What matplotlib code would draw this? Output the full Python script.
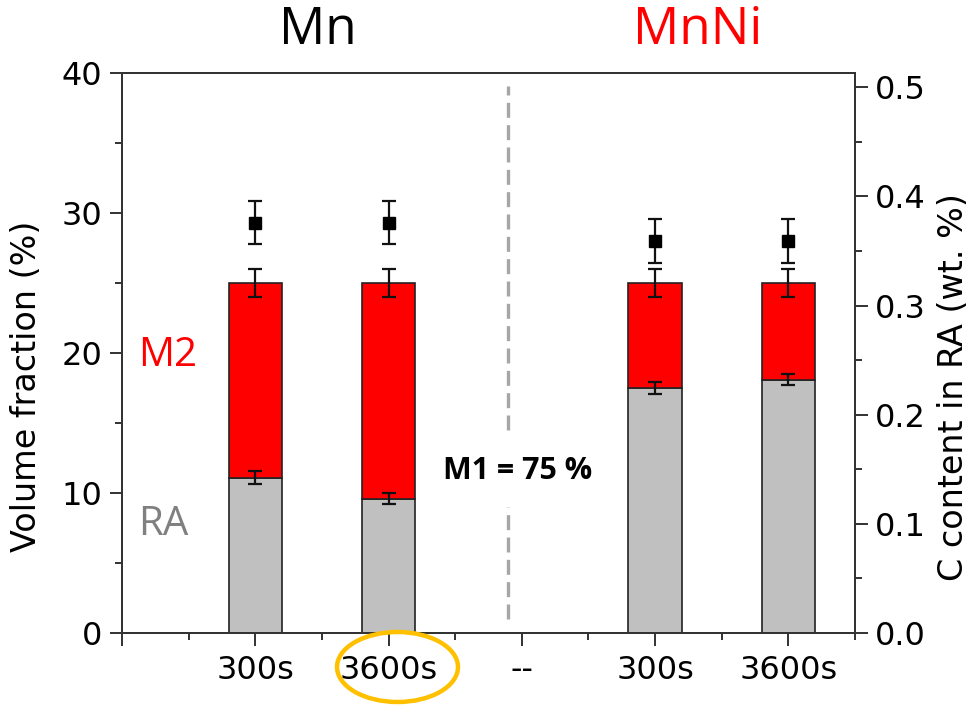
import numpy as np
import matplotlib
matplotlib.use("Agg")
import matplotlib.pyplot as plt
from matplotlib.patches import Ellipse

# categories along x (blank slot at the left edge, "--" is the separator slot)
categories = ["", "300s", "3600s", "--", "300s", "3600s"]
ra = [np.nan, 11.1, 9.6, np.nan, 17.5, 18.1]          # retained austenite (vol. %)
ra_err = [np.nan, 0.45, 0.4, np.nan, 0.4, 0.4]
total = [np.nan, 25.0, 25.0, np.nan, 25.0, 25.0]      # RA + M2 (vol. %)
total_err = [np.nan, 1.0, 1.0, np.nan, 1.0, 1.0]
c_content = [np.nan, 0.376, 0.376, np.nan, 0.359, 0.359]  # C in RA (wt. %)
c_err = [np.nan, 0.02, 0.02, np.nan, 0.02, 0.02]
group_titles = ["Mn", "MnNi"]
sep_segments = [(1.0, 9.0), (14.5, 39.1)]             # dashed separator, broken by the M1 note

W, H, DPI = 980, 705, 100
fig = plt.figure(figsize=(W / DPI, H / DPI), dpi=DPI)
ax = fig.add_axes([122 / W, 1 - 633 / H, (855 - 122) / W, (633 - 73) / H])
ax2 = ax.twinx()

x = np.arange(len(categories))
ra = np.array(ra); total = np.array(total)
m2 = total - ra

ax.bar(x, ra, width=0.4, color="#c0c0c0", edgecolor="#222222", lw=1.2, zorder=2)
ax.bar(x, m2, bottom=ra, width=0.4, color="#ff0000", edgecolor="#222222", lw=1.2, zorder=2)
ebkw = dict(fmt="none", ecolor="#111111", elinewidth=1.6, capsize=5, capthick=1.6, zorder=3)
ax.errorbar(x, ra, yerr=ra_err, **ebkw)
ax.errorbar(x, total, yerr=total_err, **ebkw)
ax2.errorbar(x, c_content, yerr=c_err, fmt="s", color="black", ms=9,
             ecolor="#111111", elinewidth=1.6, capsize=5, capthick=1.6, zorder=3)

for lo, hi in sep_segments:
    ax.plot([2.9, 2.9], [lo, hi], color="#a6a6a6", lw=2.4, dashes=(4.5, 2.2), zorder=1)
ax.text(2.97, 11.6, "M1 = 75 %", ha="center", va="center", fontsize=22,
        fontweight="bold", family="Open Sans", color="black")
ax.text(0.12, 19.8, "M2", color="#ff0000", fontsize=29, family="Open Sans", va="center", ha="left")
ax.text(0.12, 7.7, "RA", color="#808080", fontsize=29, family="Open Sans", va="center", ha="left")

ax.set_xlim(0, 5.5)
ax.set_ylim(0, 40)
ax2.set_ylim(0, 0.513)
ax.set_xticks(x)
ax.set_xticklabels(categories)
ax.set_xticks(np.arange(0.5, 5.6, 1.0), minor=True)
ax.set_yticks(np.arange(0, 41, 10))
ax.set_yticks(np.arange(5, 40, 10), minor=True)
ax2.set_yticks(np.arange(0, 0.51, 0.1))
ax2.set_yticks(np.arange(0.05, 0.5, 0.1), minor=True)
ax2.set_yticklabels(["0.0", "0.1", "0.2", "0.3", "0.4", "0.5"])

for a in (ax, ax2):
    a.tick_params(which="major", direction="out", length=9, width=1.3, labelsize=23, color="#222222")
    a.tick_params(which="minor", direction="out", length=5, width=1.3, color="#222222")
    for s in a.spines.values():
        s.set_linewidth(1.4)
        s.set_color("#333333")
ax.tick_params(axis="x", pad=7)
ax.tick_params(axis="y", pad=5)
ax2.tick_params(axis="y", pad=5)

ax.set_ylabel("Volume fraction (%)", fontsize=24, va="center")
ax2.set_ylabel("C content in RA (wt. %)", fontsize=24, va="center")
ax.yaxis.set_label_coords(-0.13, 0.44)
ax2.yaxis.set_label_coords(1.135, 0.44)

fig.text(318 / W, 1 - 30 / H, group_titles[0], ha="center", va="center",
         fontsize=37, family="Open Sans", color="black")
fig.text(698 / W, 1 - 30 / H, group_titles[1], ha="center", va="center",
         fontsize=37, family="Open Sans", color="#ff0000")

# highlight ring round the 3600s label of the Mn group
fig.patches.append(Ellipse((397.5 / W, 1 - 667 / H), 121 / W, 70 / H, transform=fig.transFigure,
                           fill=False, edgecolor="#ffc000", lw=3.2))

fig.savefig("out.png", dpi=DPI)
